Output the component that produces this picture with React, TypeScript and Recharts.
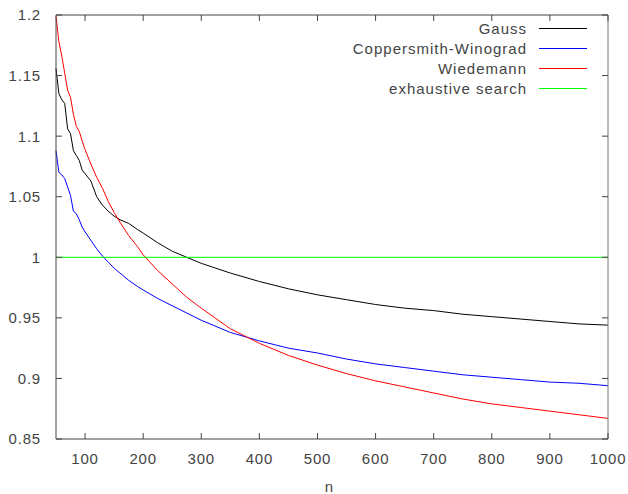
import { LineChart, Line, XAxis, YAxis } from 'recharts';

const nValues = [
  50, 55, 60, 65, 70, 75, 80, 85, 90, 95,
  100, 110, 120, 130, 140, 150, 160, 175, 190, 200,
  225, 250, 275, 300, 350, 400, 450, 500, 550, 600,
  650, 700, 750, 800, 850, 900, 950, 1000,
];

const gauss = [
  1.156, 1.135, 1.13, 1.127, 1.106, 1.102, 1.088, 1.084, 1.08, 1.072,
  1.069, 1.063, 1.05, 1.043, 1.038, 1.034, 1.031, 1.028, 1.023, 1.02,
  1.012, 1.005, 1.0, 0.995, 0.987, 0.98, 0.974, 0.969, 0.965, 0.961,
  0.958, 0.956, 0.953, 0.951, 0.949, 0.947, 0.945, 0.944,
];

const coppersmith = [
  1.088, 1.07, 1.068, 1.065, 1.058, 1.051, 1.038, 1.036, 1.031, 1.025,
  1.021, 1.014, 1.007, 1.001, 0.996, 0.991, 0.987, 0.981, 0.976, 0.973,
  0.966, 0.96, 0.954, 0.948, 0.938, 0.931, 0.925, 0.921, 0.916, 0.912,
  0.909, 0.906, 0.903, 0.901, 0.899, 0.897, 0.896, 0.894,
];

const wiedemann = [
  1.199, 1.178, 1.166, 1.152, 1.138, 1.132, 1.118, 1.108, 1.104, 1.096,
  1.089, 1.077, 1.066, 1.057, 1.046, 1.037, 1.029, 1.018, 1.009, 1.002,
  0.989, 0.978, 0.967, 0.958, 0.941, 0.929, 0.919, 0.911, 0.904, 0.898,
  0.893, 0.888, 0.883, 0.879, 0.876, 0.873, 0.87, 0.867,
];

const exhaustiveN = [50, 1000];
const exhaustive = [1, 1];

const xTicks = [100, 200, 300, 400, 500, 600, 700, 800, 900, 1000];
const yTicks = [0.85, 0.9, 0.95, 1, 1.05, 1.1, 1.15, 1.2];

const seriesNames = ['Gauss', 'Coppersmith-Winograd', 'Wiedemann', 'exhaustive search'];
const seriesColors = ['#000000', '#0000ff', '#ff0000', '#00ff00'];

const data = nValues.map((n, i) => ({
  n,
  gauss: gauss[i],
  cw: coppersmith[i],
  wied: wiedemann[i],
}));
const flatData = exhaustiveN.map((n, i) => ({ n, ex: exhaustive[i] }));

const FONT = '"Liberation Sans", Arial, sans-serif';
const TEXT = '#444';
const AXIS = '#444';

const fmtY = (v: number) => String(Number(v.toFixed(2)));

const BottomTick = (props: any) => {
  const { x, y, payload } = props;
  return (
    <g>
      <line x1={x} y1={y} x2={x} y2={y - 6} stroke={AXIS} />
      <text x={x} y={y + 25} textAnchor="middle" fill={TEXT} fontSize={15} fontFamily={FONT} letterSpacing={0.8}>
        {payload.value}
      </text>
    </g>
  );
};

const LeftTick = (props: any) => {
  const { x, y, payload } = props;
  return (
    <g>
      <line x1={x} y1={y} x2={x + 6} y2={y} stroke={AXIS} />
      <text x={x - 15} y={y} dy="0.36em" textAnchor="end" fill={TEXT} fontSize={15} fontFamily={FONT} letterSpacing={0.8}>
        {fmtY(payload.value)}
      </text>
    </g>
  );
};

const TopTick = (props: any) => {
  const { x, y } = props;
  return <line x1={x} y1={y} x2={x} y2={y + 6} stroke={AXIS} />;
};

const RightTick = (props: any) => {
  const { x, y } = props;
  return <line x1={x} y1={y} x2={x - 6} y2={y} stroke={AXIS} />;
};

function LegendBox() {
  return (
    <div
      style={{
        position: 'absolute',
        top: 18,
        right: 41,
        display: 'flex',
        flexDirection: 'column',
        alignItems: 'flex-end',
        fontFamily: FONT,
        fontSize: 15,
        letterSpacing: 1,
        color: TEXT,
      }}
    >
      {seriesNames.map((name, i) => (
        <div key={name} style={{ display: 'flex', alignItems: 'center', height: 20 }}>
          <span>{name}</span>
          <div style={{ width: 48, height: 1, background: seriesColors[i], marginLeft: 12 }} />
        </div>
      ))}
    </div>
  );
}

export default function App() {
  return (
    <div style={{ position: 'absolute', left: 0, top: 0, width: 628, height: 494, background: '#fff' }}>
      <LineChart width={628} height={494} data={data} margin={{ top: 14, right: 19, bottom: 0, left: 0 }}>
        <XAxis
          dataKey="n"
          type="number"
          domain={[50, 1000]}
          ticks={xTicks}
          height={55}
          stroke={AXIS}
          tickSize={0}
          tickMargin={0}
          tick={<BottomTick />}
          label={{ value: 'n', position: 'insideBottom', offset: 2, dx: -3, fill: TEXT, fontSize: 15, fontFamily: FONT }}
        />
        <XAxis
          xAxisId="top"
          orientation="top"
          dataKey="n"
          type="number"
          domain={[50, 1000]}
          ticks={xTicks}
          height={1}
          stroke={AXIS}
          tickSize={0}
          tickMargin={0}
          tick={<TopTick />}
        />
        <YAxis
          type="number"
          domain={[0.85, 1.2]}
          ticks={yTicks}
          width={56}
          stroke={AXIS}
          tickSize={0}
          tickMargin={0}
          tick={<LeftTick />}
          allowDataOverflow
        />
        <YAxis
          yAxisId="right"
          orientation="right"
          type="number"
          domain={[0.85, 1.2]}
          ticks={yTicks}
          width={1}
          stroke="#777"
          tickSize={0}
          tickMargin={0}
          tick={<RightTick />}
        />
        <Line type="linear" dataKey="gauss" name={seriesNames[0]} stroke={seriesColors[0]} strokeWidth={1} dot={false} isAnimationActive={false} />
        <Line type="linear" dataKey="cw" name={seriesNames[1]} stroke={seriesColors[1]} strokeWidth={1} dot={false} isAnimationActive={false} />
        <Line type="linear" dataKey="wied" name={seriesNames[2]} stroke={seriesColors[2]} strokeWidth={1} dot={false} isAnimationActive={false} />
        <Line
          data={flatData}
          xAxisId="top"
          yAxisId="right"
          type="linear"
          dataKey="ex"
          name={seriesNames[3]}
          stroke={seriesColors[3]}
          strokeWidth={1}
          dot={false}
          isAnimationActive={false}
        />
      </LineChart>
      <LegendBox />
    </div>
  );
}
